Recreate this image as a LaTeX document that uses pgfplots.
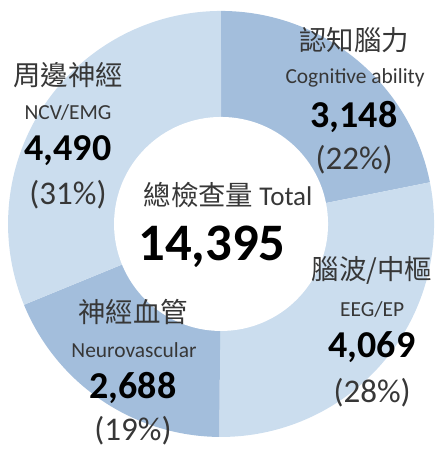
\documentclass[border=0pt]{standalone}
\usepackage{pgfplots}
\pgfplotsset{compat=1.18}
\usepackage{pgfplotstable}
\usepackage{fontspec}
\setmainfont{Carlito}
\newfontfamily\cjk{Noto Sans CJK TC}
\definecolor{darkslice}{RGB}{163,190,220}
\definecolor{lightslice}{RGB}{203,221,238}
\definecolor{txt}{RGB}{55,55,55}

% slices clockwise from 12 o'clock
\pgfplotstableread{
name value
cog 3148
eeg 4069
neu 2688
ncv 4490
}\slices

\newcommand\zh{\cjk\fontsize{15.6}{18}\selectfont\color{txt}}
\newcommand\en{\fontsize{12.2}{15}\selectfont\color{txt}}
\newcommand\num{\bfseries\fontsize{21.6}{25}\selectfont\color{black}}
\newcommand\pct{\fontsize{18.8}{22}\selectfont\color{txt}}

\begin{document}
\begin{tikzpicture}
\begin{axis}[
  x=0.02cm, y=0.02cm,
  xmin=0, xmax=434, ymin=0, ymax=449,
  y dir=reverse,
  hide axis,
  at={(0,0)}, anchor=south west,
]
\pgfmathsetmacro\total{14395}
\def\startangle{90}
\pgfplotsforeachungrouped \i in {0,...,3}{%
  \pgfplotstablegetelem{\i}{value}\of\slices
  \pgfmathsetmacro\endangle{\startangle-(\pgfplotsretval/\total)*360}%
  \ifodd\i \def\slicecol{lightslice}\else\def\slicecol{darkslice}\fi
  \edef\temp{\noexpand\fill[\slicecol] (axis cs:221,224) -- ++(\startangle:4.26cm)
    arc[start angle=\startangle, end angle=\endangle, radius=4.26cm] -- cycle;}%
  \temp
  \let\startangle\endangle
}
\fill[white] (axis cs:221,224) circle[radius=2.14cm];

% labels
\node at (axis cs:354,40)  {\zh 認知腦力};
\node at (axis cs:355,78)  {\en Cognitive ability};
\node at (axis cs:354,117) {\num 3,148};
\node at (axis cs:354,160) {\pct (22\%)};

\node at (axis cs:68,75)  {\zh 周邊神經};
\node at (axis cs:68,113) {\en NCV/EMG};
\node at (axis cs:68,151) {\num 4,490};
\node at (axis cs:68,195) {\pct (31\%)};

\node at (axis cs:372,270) {\zh 腦波/中樞};
\node at (axis cs:372,310) {\en EEG/EP};
\node at (axis cs:372,347) {\num 4,069};
\node at (axis cs:372,393) {\pct (28\%)};

\node at (axis cs:133,312) {\zh 神經血管};
\node at (axis cs:134,350) {\en Neurovascular};
\node at (axis cs:133,388) {\num 2,688};
\node at (axis cs:133,431) {\pct (19\%)};

\node at (axis cs:228,195) {\zh 總檢查量 {\rmfamily\fontsize{15.4}{18}\selectfont Total}};
\node at (axis cs:212,247) {\bfseries\fontsize{30}{34}\selectfont 14,395};
\end{axis}
\pgfresetboundingbox
\path[use as bounding box] (0,0) rectangle (8.68cm,8.98cm);
\end{tikzpicture}
\end{document}
